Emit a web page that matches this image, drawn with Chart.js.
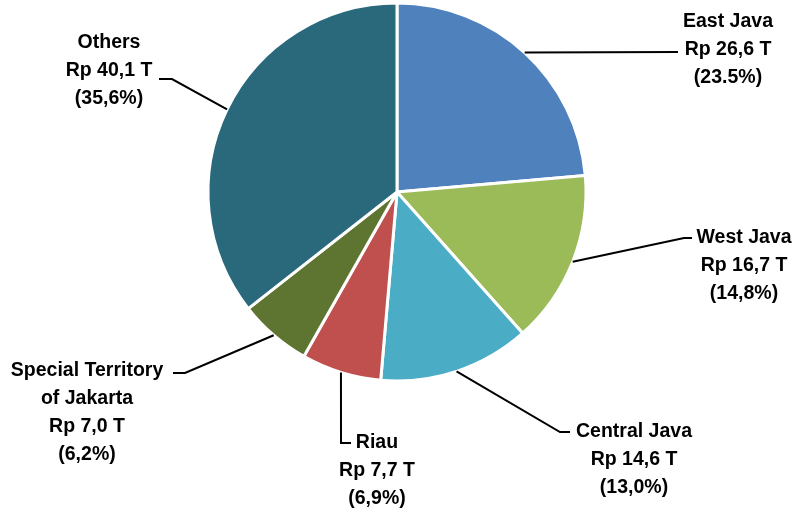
<!DOCTYPE html>
<html>
<head>
<meta charset="utf-8">
<script src="https://cdn.jsdelivr.net/npm/chart.js@4.4.1/dist/chart.umd.min.js"></script>
<style>
  html, body { margin: 0; padding: 0; background: #fff; }
  #wrap { width: 798px; height: 520px; }
</style>
</head>
<body>
<div id="wrap"><canvas id="myChart" width="798" height="520"></canvas></div>
<script>
const regions = ['East Java', 'West Java', 'Central Java', 'Riau', 'Special Territory|of Jakarta', 'Others'];
const amounts = [26.6, 16.7, 14.6, 7.7, 7.0, 40.1];
const amountLabels = ['Rp 26,6 T', 'Rp 16,7 T', 'Rp 14,6 T', 'Rp 7,7 T', 'Rp 7,0 T', 'Rp 40,1 T'];
const shareLabels = ['(23.5%)', '(14,8%)', '(13,0%)', '(6,9%)', '(6,2%)', '(35,6%)'];
const colors = ['#4F81BD', '#9BBB59', '#4BACC6', '#C0504D', '#5E7532', '#29697B'];

// where each label block sits and how its leader line bends (layout only)
const labelLayout = [
  {x: 728, y: 22, bend: [[678, 52]]},
  {x: 744, y: 238, bend: [[684, 238], [692, 238]]},
  {x: 634, y: 432, bend: [[560, 432], [570, 432]]},
  {x: 377, y: 443, bend: [[341, 443], [351, 443]]},
  {x: 87, y: 371, bend: [[185, 373], [173, 373]]},
  {x: 109, y: 43, bend: [[172, 79], [159, 79]]}
];

const leaderLabels = {
  id: 'leaderLabels',
  afterDraw(chart) {
    const ctx = chart.ctx;
    const arcs = chart.getDatasetMeta(0).data;
    ctx.save();
    ctx.strokeStyle = '#000';
    ctx.lineWidth = 2;
    ctx.fillStyle = '#000';
    ctx.font = 'bold 19.5px "Liberation Sans"';
    ctx.textAlign = 'center';
    ctx.textBaseline = 'middle';
    arcs.forEach((arc, i) => {
      const {x, y, startAngle, endAngle, outerRadius} = arc.getProps(['x', 'y', 'startAngle', 'endAngle', 'outerRadius'], true);
      const mid = (startAngle + endAngle) / 2;
      const sx = x + Math.cos(mid) * outerRadius;
      const sy = y + Math.sin(mid) * outerRadius;
      const lay = labelLayout[i];
      ctx.beginPath();
      ctx.moveTo(sx, sy);
      lay.bend.forEach(([bx, by]) => ctx.lineTo(bx, by));
      ctx.stroke();
      const lines = regions[i].split('|').concat([amountLabels[i], shareLabels[i]]);
      lines.forEach((t, k) => ctx.fillText(t, lay.x, lay.y + k * 28));
    });
    ctx.restore();
  }
};

new Chart(document.getElementById('myChart').getContext('2d'), {
  type: 'pie',
  data: {
    labels: regions.map(r => r.replace('|', ' ')),
    datasets: [{
      data: amounts,
      backgroundColor: colors,
      borderColor: '#fff',
      borderWidth: 3,
      hoverOffset: 0
    }]
  },
  options: {
    responsive: false,
    animation: false,
    radius: 189,
    layout: {padding: {left: 0, right: 4, top: 0, bottom: 136}},
    plugins: {
      legend: {display: false},
      tooltip: {enabled: false}
    }
  },
  plugins: [leaderLabels]
});
</script>
</body>
</html>
